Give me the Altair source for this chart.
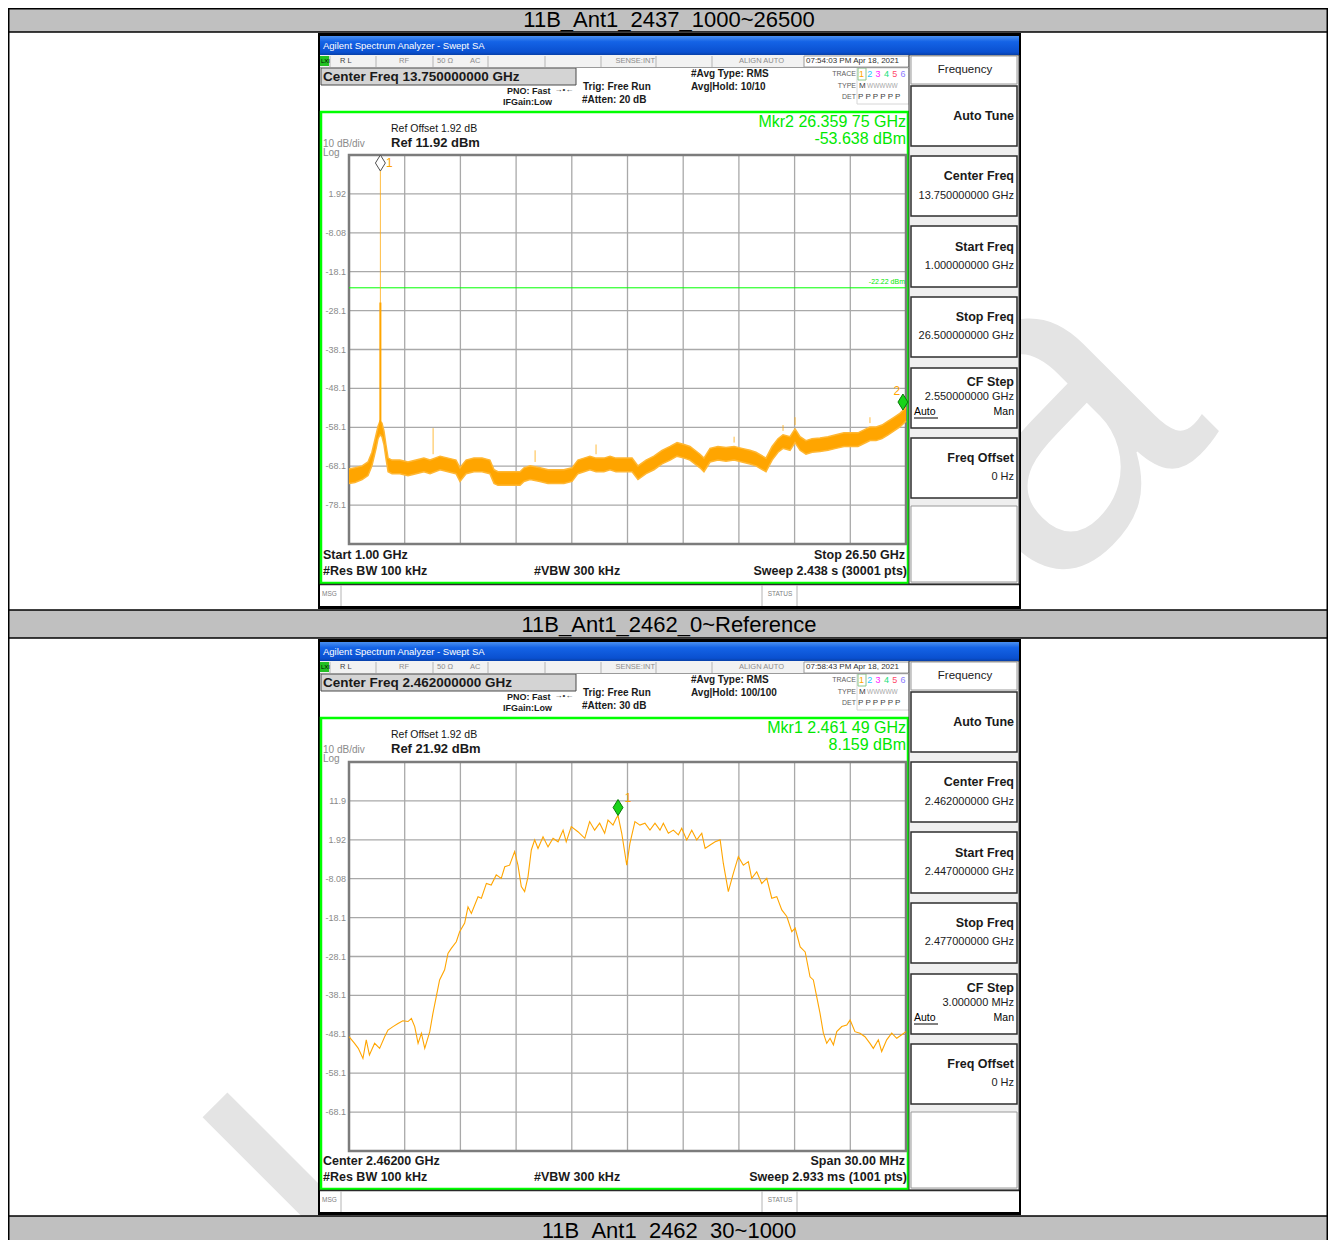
import altair as alt
import pandas as pd

M = 8  # page margin: chart coordinate = reference pixel - M
FONT = "Liberation Sans, Arial, Helvetica, sans-serif"
TFONT = "Liberation Sans, Arial, Helvetica, sans-serif"
ORANGE = "#FFA500"
LGREEN = "#00FF00"
TGREEN = "#00E800"

# ---------------- data ----------------
doc_titles = ["11B_Ant1_2437_1000~26500", "11B_Ant1_2462_0~Reference", "11B_Ant1_2462_30~1000"]
watermark_parts = ["a", "l"]

# Plot 1 : 1 - 26.5 GHz, noise band (low/high envelope)
p1_freq = [1.00, 1.27, 1.60, 1.87, 2.05, 2.24, 2.33, 2.42, 2.51, 2.60, 2.69, 2.79, 2.97, 3.33, 3.70,
           4.07, 4.43, 4.71, 5.17, 5.53, 5.90, 6.08, 6.36, 6.72, 7.09, 7.45, 7.64, 7.82, 8.10, 8.46,
           8.83, 9.01, 9.29, 9.74, 10.11, 10.48, 10.84, 11.21, 11.48, 11.76, 12.03, 12.31, 12.67, 12.95,
           13.22, 13.50, 13.96, 14.23, 14.60, 14.96, 15.33, 15.70, 16.02, 16.34, 16.61, 17.07, 17.25,
           17.53, 17.89, 18.26, 18.63, 18.99, 19.36, 19.63, 20.09, 20.37, 20.64, 20.87, 21.19, 21.42,
           21.65, 21.92, 22.20, 22.56, 22.93, 23.29, 23.66, 23.94, 24.30, 24.67, 24.85, 25.13, 25.40,
           25.68, 25.95, 26.22, 26.50]
p1_low = [-72.5, -72.3, -71.5, -70.5, -68.0, -63.5, -61.0, -60.0, -60.5, -62.5, -66.0, -69.5, -70.0, -70.0, -70.5,
          -70.0, -69.5, -70.0, -69.0, -69.5, -70.0, -72.0, -70.0, -69.5, -69.5, -70.0, -72.5, -73.0, -73.0, -73.0,
          -73.0, -72.0, -71.5, -72.0, -72.5, -72.5, -72.5, -72.0, -70.0, -69.5, -69.0, -69.5, -69.5, -69.0,
          -69.5, -69.5, -69.5, -71.5, -70.0, -69.0, -67.5, -66.5, -65.5, -66.0, -66.5, -68.5, -69.5,
          -67.0, -66.5, -66.8, -66.5, -67.0, -67.5, -68.0, -69.5, -66.5, -64.5, -63.5, -64.0, -62.0,
          -64.0, -65.0, -64.5, -64.3, -64.0, -63.5, -63.0, -63.0, -63.0, -62.0, -61.5, -61.5, -61.0,
          -60.0, -59.0, -58.0, -56.5]
p1_high = [-68.8, -68.5, -68.0, -67.0, -64.5, -60.0, -57.8, -56.5, -57.0, -59.0, -62.5, -66.0, -66.5, -66.5, -67.0,
           -66.5, -66.0, -66.5, -65.5, -66.0, -66.5, -68.5, -66.5, -66.0, -66.0, -66.5, -69.0, -69.5, -69.5, -69.5,
           -69.5, -68.5, -68.0, -68.5, -69.0, -69.0, -69.0, -68.5, -66.5, -66.0, -65.5, -66.0, -66.0, -65.5,
           -66.0, -66.0, -66.0, -68.0, -66.5, -65.5, -64.0, -63.0, -62.0, -62.5, -63.0, -65.0, -66.0,
           -63.5, -63.0, -63.3, -63.0, -63.5, -64.0, -64.5, -66.0, -63.0, -61.0, -60.0, -60.5, -58.5,
           -60.5, -61.5, -61.0, -60.8, -60.5, -60.0, -59.5, -59.5, -59.5, -58.5, -58.0, -58.0, -57.5,
           -56.5, -55.5, -54.5, -53.0]
# narrow spikes above the noise (freq, base, top)
p1_spike_freq = [2.437, 4.85, 9.52, 12.31, 18.63, 20.87, 21.42, 24.85]
p1_spike_base = [-57.0, -65.0, -67.0, -65.0, -62.0, -59.0, -57.5, -57.0]
p1_spike_top = [7.8, -58.3, -64.0, -62.5, -60.5, -57.5, -55.5, -55.5]
p1_carrier_skirt = [-58.0, -26.0]
p1_mkr_freq = [2.437, 26.35975]
p1_mkr_level = [7.8, -53.638]
p1_mkr_label = ["1", "2"]
p1_display_line = -22.22
p1_xgrid = [3.55, 6.10, 8.65, 11.20, 13.75, 16.30, 18.85, 21.40, 23.95]
p1_ygrid = [1.92, -8.08, -18.08, -28.08, -38.08, -48.08, -58.08, -68.08, -78.08]
p1_ylabels = ["1.92", "-8.08", "-18.1", "-28.1", "-38.1", "-48.1", "-58.1", "-68.1", "-78.1"]

# Plot 2 : 2447 - 2477 MHz
p2_freq = [2447.0, 2447.3, 2447.5, 2447.75, 2447.93, 2448.1, 2448.38, 2448.65, 2448.92, 2449.1, 2449.37,
           2449.64, 2449.9, 2450.18, 2450.36, 2450.54, 2450.72, 2450.9, 2451.08, 2451.35, 2451.52, 2451.7,
           2451.88, 2452.15, 2452.33, 2452.51, 2452.78, 2452.96, 2453.23, 2453.41, 2453.59, 2453.95, 2454.13,
           2454.4, 2454.66, 2454.93, 2455.2, 2455.39, 2455.65, 2455.92, 2456.1, 2456.28, 2456.46, 2456.64,
           2456.82, 2457.0, 2457.18, 2457.45, 2457.72, 2457.99, 2458.26, 2458.53, 2458.7, 2458.97, 2459.33,
           2459.7, 2459.96, 2460.23, 2460.5, 2460.77, 2460.95, 2461.22, 2461.4, 2461.49, 2461.69, 2461.96,
           2462.13, 2462.4, 2462.67, 2462.94, 2463.21, 2463.48, 2463.75, 2463.93, 2464.2, 2464.47, 2464.74,
           2464.92, 2465.19, 2465.46, 2465.73, 2466.0, 2466.18, 2466.45, 2466.72, 2466.99, 2467.16, 2467.43,
           2467.7, 2467.97, 2468.24, 2468.51, 2468.69, 2468.96, 2469.23, 2469.5, 2469.77, 2470.04, 2470.31,
           2470.58, 2470.85, 2471.03, 2471.3, 2471.57, 2471.83, 2472.01, 2472.19, 2472.37, 2472.55, 2472.73,
           2472.91, 2473.09, 2473.27, 2473.54, 2473.81, 2473.99, 2474.25, 2474.52, 2474.79, 2475.06, 2475.24,
           2475.51, 2475.69, 2475.96, 2476.23, 2476.5, 2476.77, 2477.0]
p2_level = [-48.7, -50.4, -51.7, -54.3, -49.5, -53.4, -50.4, -51.7, -48.7, -47.0, -46.1,
            -45.3, -44.6, -44.8, -44.0, -46.1, -50.4, -47.8, -51.7, -47.4, -42.7, -38.4,
            -34.1, -31.5, -27.3, -26.0, -24.3, -21.7, -19.5, -15.3, -17.0, -12.7, -13.1,
            -9.3, -9.7, -7.1, -8.0, -5.0, -4.6, -1.1, -4.6, -10.1, -11.4, -7.6,
            -0.7, 1.9, -0.3, 2.7, 0.1, 2.3, 1.4, 4.4, 1.4, 5.3, 4.0,
            2.3, 6.6, 4.4, 6.2, 3.6, 7.0, 5.7, 7.5, 8.159, 3.6, -4.6,
            1.0, 6.6, 5.7, 6.2, 4.4, 6.2, 4.4, 6.2, 3.6, 4.4, 3.2,
            4.9, 1.9, 4.4, 1.9, 3.6, -0.3, 0.6, 1.4, 1.9, -4.1, -11.4,
            -6.7, -2.4, -4.6, -3.7, -8.0, -6.3, -9.3, -8.0, -13.1, -12.7, -16.1,
            -17.8, -21.7, -20.8, -25.6, -26.9, -33.3, -34.1, -38.4, -42.7, -47.8, -50.4,
            -49.1, -50.8, -47.4, -46.1, -45.7, -44.4, -47.4, -47.8, -48.7, -50.4, -51.7,
            -49.5, -52.5, -49.5, -47.8, -49.1, -48.2, -47.4]
p2_mkr_freq = [2461.49]
p2_mkr_level = [8.159]
p2_mkr_label = ["1"]
p2_xgrid = [2450, 2453, 2456, 2459, 2462, 2465, 2468, 2471, 2474]
p2_ygrid = [11.92, 1.92, -8.08, -18.08, -28.08, -38.08, -48.08, -58.08, -68.08]
p2_ylabels = ["11.9", "1.92", "-8.08", "-18.1", "-28.1", "-38.1", "-48.1", "-58.1", "-68.1"]

screens = [
    dict(dy=0, center="Center Freq 13.750000000 GHz", atten="#Atten: 20 dB", avg="Avg|Hold: 10/10",
         time="07:54:03 PM Apr 18, 2021", ref="Ref 11.92 dBm", mkr1="Mkr2 26.359 75 GHz", mkr2="-53.638 dBm",
         bl="Start 1.00 GHz", br="Stop 26.50 GHz", sweep="Sweep  2.438 s (30001 pts)",
         keys=["13.750000000 GHz", "1.000000000 GHz", "26.500000000 GHz", "2.550000000 GHz", "0 Hz"]),
    dict(dy=606, center="Center Freq 2.462000000 GHz", atten="#Atten: 30 dB", avg="Avg|Hold: 100/100",
         time="07:58:43 PM Apr 18, 2021", ref="Ref 21.92 dBm", mkr1="Mkr1 2.461 49 GHz", mkr2="8.159 dBm",
         bl="Center 2.46200 GHz", br="Span 30.00 MHz", sweep="Sweep  2.933 ms (1001 pts)",
         keys=["2.462000000 GHz", "2.447000000 GHz", "2.477000000 GHz", "3.000000 MHz", "0 Hz"]),
]
trace_digits = ["1", "2", "3", "4", "5", "6"]
trace_colors = ["#FFA500", "#19C8FF", "#FF19FF", "#19E07A", "#FF4A6A", "#8C7CFF"]

# ---------------- helpers ----------------
ONE = pd.DataFrame({"k": [0]})


def rect_layer(rows):
    df = pd.DataFrame(rows, columns=["x", "x2", "y", "y2", "fill", "stroke", "sw"])
    for c in ["x", "x2", "y", "y2"]:
        df[c] = df[c] - M
    return alt.Chart(df).mark_rect().encode(
        x=alt.X("x:Q", scale=None, axis=None), x2="x2:Q",
        y=alt.Y("y:Q", scale=None, axis=None), y2="y2:Q",
        fill=alt.Fill("fill:N", scale=None),
        stroke=alt.Stroke("stroke:N", scale=None),
        strokeWidth=alt.StrokeWidth("sw:Q", scale=None))


def line_layer(rows):
    df = pd.DataFrame(rows, columns=["x", "y", "x2", "y2", "c", "sw"])
    for c in ["x", "x2", "y", "y2"]:
        df[c] = df[c] - M
    return alt.Chart(df).mark_rule().encode(
        x=alt.X("x:Q", scale=None, axis=None), x2="x2:Q",
        y=alt.Y("y:Q", scale=None, axis=None), y2="y2:Q",
        color=alt.Color("c:N", scale=None),
        strokeWidth=alt.StrokeWidth("sw:Q", scale=None))


def text_layer(rows, align="left", weight="normal", font=FONT, angle=0):
    df = pd.DataFrame(rows, columns=["t", "x", "y", "s", "c"])
    df["x"] = df["x"] - M
    df["y"] = df["y"] - M
    return alt.Chart(df).mark_text(align=align, baseline="middle", fontWeight=weight, font=font,
                                   angle=angle).encode(
        x=alt.X("x:Q", scale=None, axis=None), y=alt.Y("y:Q", scale=None, axis=None),
        text="t:N", size=alt.Size("s:Q", scale=None), color=alt.Color("c:N", scale=None))


def xscale(dom):
    return alt.Scale(domain=dom, range=[349 - M, 906 - M], zero=False, nice=False)


def yscale(dom, top, bottom):
    return alt.Scale(domain=dom, range=[bottom - M, top - M], zero=False, nice=False)


DIAMOND = "M0,0L-0.62,-1L0,-2L0.62,-1Z"


def plot_layers(xdom, ydom, top, bottom, xgrid, ygrid, ylabels):
    xs = xscale(xdom)
    ys = yscale(ydom, top, bottom)
    vg = pd.DataFrame({"g": xgrid, "lo": ydom[0], "hi": ydom[1]})
    hg = pd.DataFrame({"v": ygrid, "lo": xdom[0], "hi": xdom[1], "lab": ylabels})
    bd = pd.DataFrame({"x0": [xdom[0]], "x1": [xdom[1]], "y0": [ydom[0]], "y1": [ydom[1]]})
    L = []
    L.append(alt.Chart(vg).mark_rule(color="#A9A9A9", strokeWidth=1.3).encode(
        x=alt.X("g:Q", scale=xs, axis=None), y=alt.Y("lo:Q", scale=ys, axis=None), y2="hi:Q"))
    L.append(alt.Chart(hg).mark_rule(color="#A9A9A9", strokeWidth=1.3).encode(
        y=alt.Y("v:Q", scale=ys, axis=None), x=alt.X("lo:Q", scale=xs, axis=None), x2="hi:Q"))
    L.append(alt.Chart(bd).mark_rect(fillOpacity=0, stroke="#7C7C7C", strokeWidth=2.5).encode(
        x=alt.X("x0:Q", scale=xs, axis=None), x2="x1:Q", y=alt.Y("y0:Q", scale=ys, axis=None), y2="y1:Q"))
    L.append(alt.Chart(hg).mark_text(align="right", baseline="middle", font=FONT, fontSize=9, color="#8A8A8A").encode(
        x=alt.value(346 - M), y=alt.Y("v:Q", scale=ys, axis=None), text="lab:N"))
    return L, xs, ys


def marker_layers(freqs, levels, labels, xs, ys, fills, strokes, dxs, dys):
    L = []
    for f, v, lab, fc, sc, dx, dy in zip(freqs, levels, labels, fills, strokes, dxs, dys):
        d = pd.DataFrame({"f": [f], "v": [v], "lab": [lab]})
        L.append(alt.Chart(d).mark_point(shape=DIAMOND, size=256, filled=True, fill=fc, stroke=sc,
                                         strokeWidth=1, opacity=1).encode(
            x=alt.X("f:Q", scale=xs, axis=None), y=alt.Y("v:Q", scale=ys, axis=None)))
        L.append(alt.Chart(d).mark_text(align="center", baseline="middle", font=FONT, fontSize=12,
                                        color=ORANGE, dx=dx, dy=dy).encode(
            x=alt.X("f:Q", scale=xs, axis=None), y=alt.Y("v:Q", scale=ys, axis=None), text="lab:N"))
    return L


layers = []

# ---------------- watermark (behind everything) ----------------
layers.append(text_layer([
    (watermark_parts[0], 1040, 425, 440, "#E4E4E4"),
    (watermark_parts[1], 335, 1225, 400, "#E4E4E4"),
], align="center", font=FONT, angle=315))

# ---------------- document table ----------------
layers.append(rect_layer([
    (8.5, 1327.5, 8.5, 32, "#C0C0C0", "none", 0),
    (8.5, 1327.5, 610, 638, "#C0C0C0", "none", 0),
    (8.5, 1327.5, 1216, 1240, "#C0C0C0", "none", 0),
]))
layers.append(line_layer([
    (8, 8.75, 1328, 8.75, "#000000", 1.5),
    (8, 32, 1328, 32, "#000000", 1.5),
    (8, 610, 1328, 610, "#000000", 1.5),
    (8, 638, 1328, 638, "#000000", 1.5),
    (8, 1216, 1328, 1216, "#000000", 1.5),
    (8.75, 8, 8.75, 1240, "#000000", 1.5),
    (1327.25, 8, 1327.25, 1240, "#000000", 1.5),
]))
layers.append(text_layer([
    (doc_titles[0], 669, 20, 22, "#000000"),
    (doc_titles[1], 669, 625, 22, "#000000"),
    (doc_titles[2], 669, 1231, 22, "#000000"),
], align="center", font=TFONT))

# ---------------- screenshots chrome ----------------
key_boxes = [(86, 146), (156, 216), (226, 287), (297, 357), (368, 428), (438, 498)]
for s in screens:
    dy = s["dy"]
    rows = [
        (318, 1021, 33, 609, "#000000", "none", 0),
        (320, 1019, 36, 606, "#FFFFFF", "none", 0),
        (320, 909, 55, 67, "#F2F2F2", "none", 0),
        (804, 909, 56, 67, "#FFFFFF", "#9A9A9A", 1),
        (320, 329, 56, 66, "#22C022", "none", 0),
        (321, 576, 68, 85, "#D4D4D4", "#4A4A4A", 1),
        (857, 909, 68, 104, "#FFFFFF", "#D6D6D6", 1),
        (858, 866, 68, 80, "none", "#8CC88C", 1),
        (321, 908, 112, 583, "#FFFFFF", LGREEN, 2.5),
        (909, 1019, 55, 584, "#EFEFEF", "#3A3A3A", 1),
        (911, 1017, 56, 84, "#FFFFFF", "#9A9A9A", 1),
    ]
    for (a, b) in key_boxes:
        rows.append((911, 1017, a, b, "#FFFFFF", "#2E2E2E", 1.5))
    rows.append((911, 1017, 506, 582, "#FFFFFF", "#9A9A9A", 1))
    rows.append((320, 1019, 585, 606, "#FFFFFF", "none", 0))
    rows = [(r[0], r[1], r[2] + dy, r[3] + dy, r[4], r[5], r[6]) for r in rows]
    layers.append(rect_layer(rows))
    grad = alt.Gradient(gradient="linear", x1=0, x2=0, y1=0, y2=1,
                        stops=[alt.GradientStop(color="#4A90F0", offset=0),
                               alt.GradientStop(color="#1463E6", offset=0.3),
                               alt.GradientStop(color="#0A50D0", offset=0.85),
                               alt.GradientStop(color="#0840A8", offset=1)])
    layers.append(alt.Chart(ONE).mark_rect(fill=grad).encode(
        x=alt.value(320 - M), x2=alt.value(1019 - M), y=alt.value(36 + dy - M), y2=alt.value(55 + dy - M)))
    seps = [330, 376, 433, 488, 545, 601, 656, 712]
    lrows = [(x, 56 + dy, x, 67 + dy, "#B4B4B4", 1) for x in seps]
    lrows += [(320, 67.5 + dy, 909, 67.5 + dy, "#9A9A9A", 1),
              (320, 584.5 + dy, 1019, 584.5 + dy, "#2A2A2A", 1.5),
              (341, 585 + dy, 341, 606 + dy, "#B4B4B4", 1),
              (762, 585 + dy, 762, 606 + dy, "#B4B4B4", 1),
              (797, 585 + dy, 797, 606 + dy, "#B4B4B4", 1),
              (914, 418 + dy, 938, 418 + dy, "#000000", 1)]
    layers.append(line_layer(lrows))

# ---------------- plot 1 ----------------
L1, xs1, ys1 = plot_layers([1.0, 26.5], [-88.08, 11.92], 155, 544, p1_xgrid, p1_ygrid, p1_ylabels)
layers += L1
dl = pd.DataFrame({"v": [p1_display_line], "lo": [1.0], "hi": [26.5]})
layers.append(alt.Chart(dl).mark_rule(color=LGREEN, strokeWidth=1).encode(
    y=alt.Y("v:Q", scale=ys1, axis=None), x=alt.X("lo:Q", scale=xs1, axis=None), x2="hi:Q"))
band = pd.DataFrame({"f": p1_freq, "lo": p1_low, "hi": p1_high})
layers.append(alt.Chart(band).mark_area(color=ORANGE, opacity=1, line=False).encode(
    x=alt.X("f:Q", scale=xs1, axis=None), y=alt.Y("lo:Q", scale=ys1, axis=None), y2="hi:Q"))
layers.append(alt.Chart(band).mark_line(color="#FFB733", strokeWidth=1.5).encode(
    x=alt.X("f:Q", scale=xs1, axis=None), y=alt.Y("hi:Q", scale=ys1, axis=None)))
layers.append(alt.Chart(band).mark_line(color="#FFB733", strokeWidth=1.5).encode(
    x=alt.X("f:Q", scale=xs1, axis=None), y=alt.Y("lo:Q", scale=ys1, axis=None)))
sp = pd.DataFrame({"f": p1_spike_freq, "b": p1_spike_base, "t": p1_spike_top})
layers.append(alt.Chart(sp).mark_rule(color=ORANGE, strokeWidth=1, opacity=0.75).encode(
    x=alt.X("f:Q", scale=xs1, axis=None), y=alt.Y("b:Q", scale=ys1, axis=None), y2="t:Q"))
sk = pd.DataFrame({"f": [p1_spike_freq[0]], "b": [p1_carrier_skirt[0]], "t": [p1_carrier_skirt[1]]})
layers.append(alt.Chart(sk).mark_rule(color=ORANGE, strokeWidth=2).encode(
    x=alt.X("f:Q", scale=xs1, axis=None), y=alt.Y("b:Q", scale=ys1, axis=None), y2="t:Q"))
layers += marker_layers(p1_mkr_freq, p1_mkr_level, p1_mkr_label, xs1, ys1,
                        ["#FFFFFF", "#19D419"], ["#505050", "#0A7A0A"], [9, -6], [-8, -19])

# ---------------- plot 2 ----------------
L2, xs2, ys2 = plot_layers([2447.0, 2477.0], [-78.08, 21.92], 762, 1151, p2_xgrid, p2_ygrid, p2_ylabels)
layers += L2
tr = pd.DataFrame({"f": p2_freq, "v": p2_level})
layers.append(alt.Chart(tr).mark_line(color=ORANGE, strokeWidth=1.1).encode(
    x=alt.X("f:Q", scale=xs2, axis=None), y=alt.Y("v:Q", scale=ys2, axis=None)))
layers += marker_layers(p2_mkr_freq, p2_mkr_level, p2_mkr_label, xs2, ys2,
                        ["#19D419"], ["#0A7A0A"], [10], [-18])

# ---------------- screenshot texts ----------------
for s in screens:
    dy = s["dy"]
    ln = [("Agilent Spectrum Analyzer - Swept SA", 323, 46, 9.5, "#FFFFFF"),
          ("LXI", 321, 61, 6, "#000000"),
          ("R L", 340, 61, 7.5, "#404040"),
          ("50 Ω", 437, 61, 7.5, "#8C8C8C"),
          ("AC", 470, 61, 7.5, "#8C8C8C"),
          (s["time"], 806, 61, 8, "#303030"),
          ("Ref Offset 1.92 dB", 391, 129, 10.5, "#151515"),
          ("10 dB/div", 323, 144, 10, "#8A8A8A"),
          ("Log", 323, 153, 10, "#8A8A8A"),
          ("M", 859, 86, 8, "#404040"),
          ("WWWWW", 867, 86, 6.5, "#A8A8A8"),
          ("P P P P P P", 858, 97, 8, "#404040"),
          ("MSG", 322, 594, 6.5, "#808080"),
          ("Auto", 914, 412, 10.5, "#000000")]
    for i, (d, c) in enumerate(zip(trace_digits, trace_colors)):
        ln.append((d, 859 + i * 8.3, 74, 9, c))
    rn = [("SENSE:INT", 655, 61, 7.5, "#8C8C8C"),
          ("ALIGN AUTO", 784, 61, 7.5, "#8C8C8C"),
          ("TRACE", 856, 74, 7, "#606060"),
          ("TYPE", 856, 86, 7, "#606060"),
          ("DET", 856, 97, 7, "#606060"),
          (s["mkr1"], 906, 122, 16, TGREEN),
          (s["mkr2"], 906, 139, 16, TGREEN),
          (s["keys"][0], 1014, 196, 11, "#202020"),
          (s["keys"][1], 1014, 266, 11, "#202020"),
          (s["keys"][2], 1014, 336, 11, "#202020"),
          (s["keys"][3], 1014, 397, 11, "#202020"),
          (s["keys"][4], 1014, 477, 11, "#202020"),
          ("Man", 1014, 412, 10.5, "#000000")]
    if dy == 0:
        rn.append(("-22.22 dBm", 905, 282, 7, TGREEN))
    cn = [("RF", 404, 61, 7.5, "#8C8C8C"),
          ("STATUS", 780, 594, 6.5, "#808080"),
          ("Frequency", 965, 70, 11.5, "#202020"),
          ("→•←", 564, 90, 8, "#303030")]
    lb = [(s["center"], 323, 77, 13.5, "#1A1A1A"),
          ("PNO: Fast", 507, 91, 9, "#1A1A1A"),
          ("IFGain:Low", 503, 102, 9, "#1A1A1A"),
          ("Trig: Free Run", 583, 87, 10, "#1A1A1A"),
          (s["atten"], 582, 100, 10, "#1A1A1A"),
          ("#Avg Type: RMS", 691, 74, 10, "#1A1A1A"),
          (s["avg"], 691, 87, 10, "#1A1A1A"),
          (s["ref"], 391, 143, 13, "#1A1A1A"),
          (s["bl"], 323, 555, 12.5, "#1A1A1A"),
          ("#Res BW 100 kHz", 323, 571, 12.5, "#1A1A1A"),
          ("#VBW 300 kHz", 534, 571, 12.5, "#1A1A1A")]
    rb = [(s["br"], 905, 555, 12.5, "#1A1A1A"),
          (s["sweep"], 907, 571, 12.5, "#1A1A1A"),
          ("Auto Tune", 1014, 116, 12.5, "#1A1A1A"),
          ("Center Freq", 1014, 176, 12.5, "#1A1A1A"),
          ("Start Freq", 1014, 247, 12.5, "#1A1A1A"),
          ("Stop Freq", 1014, 317, 12.5, "#1A1A1A"),
          ("CF Step", 1014, 382, 12.5, "#1A1A1A"),
          ("Freq Offset", 1014, 458, 12.5, "#1A1A1A")]
    sh = lambda rows: [(r[0], r[1], r[2] + dy, r[3], r[4]) for r in rows]
    layers.append(text_layer(sh(ln), "left", "normal"))
    layers.append(text_layer(sh(rn), "right", "normal"))
    layers.append(text_layer(sh(cn), "center", "normal"))
    layers.append(text_layer(sh(lb), "left", "bold"))
    layers.append(text_layer(sh(rb), "right", "bold"))

chart = alt.layer(*layers).resolve_scale(x="independent", y="independent").properties(
    width=1320, height=1232, padding=0, background="white",
    autosize=alt.AutoSizeParams(type="none")
).configure_view(stroke=None)

chart.save("out.html", embed_options={"renderer": "svg", "actions": False})
